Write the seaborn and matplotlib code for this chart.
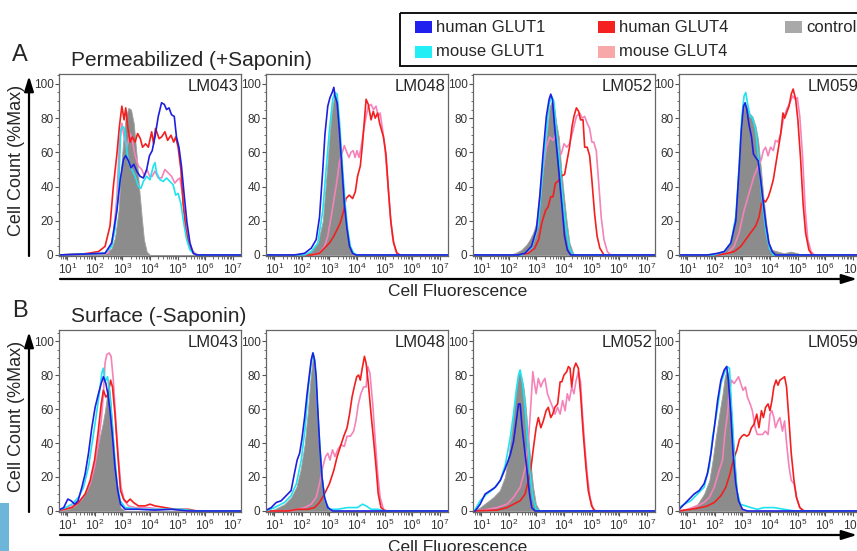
import numpy as np
import pandas as pd
import matplotlib
matplotlib.use('Agg')
import matplotlib.pyplot as plt
from matplotlib.patches import Rectangle
from matplotlib.ticker import LogLocator, NullFormatter, FixedLocator, MultipleLocator
import seaborn as sns

# series / colours
LINE_ORDER = ['mouse GLUT4', 'human GLUT4', 'mouse GLUT1', 'human GLUT1']
LINE_COLORS = {'human GLUT1': '#1f1fe0', 'mouse GLUT1': '#1fe3f0',
               'human GLUT4': '#f31f1f', 'mouse GLUT4': '#f583b9'}
PATCH_COLORS = {'human GLUT1': '#2020ee', 'mouse GLUT1': '#22eef5',
                'human GLUT4': '#f52020', 'mouse GLUT4': '#f8a8a8', 'control': '#a9a9a9'}
CONTROL_FILL = '#8c8c8c'

CELL_LINES = ['LM043', 'LM048', 'LM052', 'LM059']
DECADES = [1, 2, 3, 4, 5, 6, 7]
PCT_TICKS = [0, 20, 40, 60, 80, 100]

# histograms: (log10 fluorescence, % of max)
PERM_LM043 = {
    'human GLUT1': [(0.7, 0), (2.37, 1), (2.61, 7), (2.8, 26), (2.92, 44), (3.04, 56), (3.12, 58), (3.22, 55), (3.31, 51), (3.41, 53), (3.52, 49), (3.64, 46), (3.76, 45), (3.88, 50), (3.98, 58), (4.08, 61), (4.18, 69), (4.3, 81), (4.42, 89), (4.52, 88), (4.6, 85), (4.69, 86), (4.78, 82), (4.88, 81), (4.96, 69), (5.05, 63), (5.14, 52), (5.24, 35), (5.34, 19), (5.45, 7), (5.57, 1), (5.69, 0), (7.3, 0)],
    'mouse GLUT1': [(0.7, 0), (2.37, 1), (2.61, 5), (2.73, 15), (2.86, 38), (2.94, 73), (3.01, 75), (3.07, 74), (3.13, 65), (3.22, 54), (3.34, 50), (3.46, 46), (3.58, 40), (3.67, 39), (3.76, 43), (3.88, 46), (4.0, 44), (4.12, 52), (4.18, 54), (4.24, 48), (4.36, 44), (4.48, 43), (4.6, 45), (4.72, 43), (4.84, 41), (4.93, 35), (5.02, 36), (5.12, 30), (5.22, 19), (5.33, 9), (5.45, 3), (5.57, 1), (5.7, 0), (7.3, 0)],
    'human GLUT4': [(0.7, 0), (1.5, 0.5), (1.77, 1), (2.13, 2), (2.37, 5), (2.55, 17), (2.67, 40), (2.8, 59), (2.89, 75), (2.98, 87), (3.06, 79), (3.12, 86), (3.19, 75), (3.28, 66), (3.36, 69), (3.46, 66), (3.55, 71), (3.65, 68), (3.73, 63), (3.84, 65), (3.94, 63), (4.06, 72), (4.13, 65), (4.2, 74), (4.33, 68), (4.42, 69), (4.54, 72), (4.64, 67), (4.76, 70), (4.86, 66), (4.93, 69), (5.02, 63), (5.12, 50), (5.2, 30), (5.3, 15), (5.42, 5), (5.57, 1), (5.69, 0), (7.3, 0)],
    'mouse GLUT4': [(0.7, 0), (2.49, 1), (2.67, 11), (2.8, 34), (2.89, 65), (2.98, 77), (3.06, 69), (3.16, 63), (3.28, 71), (3.36, 67), (3.46, 58), (3.58, 52), (3.7, 50), (3.8, 46), (3.89, 50), (3.99, 46), (4.08, 46), (4.18, 49), (4.3, 45), (4.42, 45), (4.54, 50), (4.66, 48), (4.78, 46), (4.9, 42), (5.0, 44), (5.08, 45), (5.18, 36), (5.29, 20), (5.39, 9), (5.51, 3), (5.63, 1), (5.75, 0), (7.3, 0)],
    'control': [(0.7, 0), (2.37, 0.5), (2.61, 4), (2.73, 10), (2.86, 26), (2.95, 50), (3.04, 69), (3.12, 81), (3.22, 86), (3.31, 85), (3.41, 77), (3.51, 59), (3.6, 40), (3.7, 22), (3.78, 9), (3.88, 2), (4.0, 0), (7.3, 0)],
}
PERM_LM048 = {
    'human GLUT1': [(0.7, 0), (1.73, 0), (2.1, 1), (2.34, 4), (2.52, 9), (2.64, 22), (2.76, 50), (2.84, 71), (2.94, 87), (3.02, 92), (3.1, 95), (3.16, 98), (3.2, 93), (3.28, 89), (3.36, 73), (3.45, 52), (3.54, 30), (3.64, 15), (3.73, 5), (3.84, 1), (3.96, 0), (7.3, 0)],
    'mouse GLUT1': [(0.7, 0), (2.1, 0), (2.34, 2), (2.58, 7), (2.76, 26), (2.88, 50), (3.0, 73), (3.12, 91), (3.2, 95), (3.28, 94), (3.36, 79), (3.48, 50), (3.57, 30), (3.66, 15), (3.76, 5), (3.88, 1), (4.0, 0), (7.3, 0)],
    'human GLUT4': [(0.7, 0), (2.34, 0), (2.64, 1), (2.82, 4), (3.0, 7), (3.16, 11), (3.28, 15), (3.4, 19), (3.52, 26), (3.6, 33), (3.72, 35), (3.84, 33), (3.94, 37), (4.02, 46), (4.12, 52), (4.2, 65), (4.27, 79), (4.33, 91), (4.41, 88), (4.51, 79), (4.59, 84), (4.66, 80), (4.75, 83), (4.82, 77), (4.89, 73), (4.96, 69), (5.05, 59), (5.13, 40), (5.23, 19), (5.33, 7), (5.45, 1), (5.57, 0), (7.3, 0)],
    'mouse GLUT4': [(0.7, 0), (2.34, 0), (2.64, 1), (2.82, 5), (2.94, 11), (3.06, 22), (3.18, 34), (3.28, 44), (3.36, 54), (3.45, 59), (3.54, 64), (3.63, 60), (3.71, 57), (3.78, 60), (3.86, 61), (3.93, 57), (4.0, 61), (4.07, 57), (4.14, 62), (4.24, 73), (4.33, 81), (4.41, 87), (4.51, 88), (4.6, 85), (4.69, 87), (4.77, 81), (4.84, 83), (4.93, 73), (5.01, 63), (5.11, 44), (5.2, 24), (5.3, 9), (5.41, 2), (5.53, 0), (7.3, 0)],
    'control': [(0.7, 0), (1.98, 0), (2.34, 2), (2.58, 7), (2.76, 20), (2.88, 44), (3.0, 69), (3.08, 83), (3.18, 94), (3.25, 93), (3.33, 79), (3.42, 59), (3.52, 36), (3.61, 19), (3.72, 6), (3.84, 1), (3.96, 0), (7.3, 0)],
}
PERM_LM052 = {
    'human GLUT1': [(0.7, 0), (2.34, 0), (2.58, 1), (2.82, 5), (3.0, 15), (3.12, 34), (3.24, 59), (3.36, 81), (3.46, 91), (3.52, 94), (3.58, 91), (3.66, 75), (3.76, 58), (3.84, 44), (3.94, 26), (4.02, 11), (4.12, 3), (4.24, 0), (7.3, 0)],
    'mouse GLUT1': [(0.7, 0), (2.46, 0), (2.82, 4), (3.06, 17), (3.2, 44), (3.33, 67), (3.45, 87), (3.54, 93), (3.63, 90), (3.72, 73), (3.84, 54), (3.96, 32), (4.08, 15), (4.2, 4), (4.33, 0), (7.3, 0)],
    'human GLUT4': [(0.7, 0), (2.34, 0), (2.7, 1), (2.94, 4), (3.08, 9), (3.2, 19), (3.33, 26), (3.42, 28), (3.52, 34), (3.6, 34), (3.69, 42), (3.78, 43), (3.88, 46), (4.02, 47), (4.12, 56), (4.2, 63), (4.29, 75), (4.36, 81), (4.45, 86), (4.53, 84), (4.6, 79), (4.69, 79), (4.75, 63), (4.84, 63), (4.93, 58), (5.01, 44), (5.11, 24), (5.2, 11), (5.3, 4), (5.45, 0), (7.3, 0)],
    'mouse GLUT4': [(0.7, 0), (2.34, 0), (2.64, 1), (2.82, 4), (3.0, 13), (3.12, 34), (3.24, 50), (3.36, 63), (3.48, 69), (3.6, 67), (3.72, 71), (3.81, 61), (3.9, 59), (4.0, 65), (4.1, 63), (4.2, 65), (4.33, 73), (4.45, 81), (4.57, 83), (4.66, 80), (4.75, 81), (4.84, 77), (4.93, 74), (5.01, 66), (5.08, 66), (5.17, 61), (5.25, 44), (5.35, 22), (5.45, 9), (5.57, 2), (5.69, 0), (7.3, 0)],
    'control': [(0.7, 0), (1.98, 0), (2.22, 1), (2.46, 3), (2.64, 6), (2.76, 9), (2.88, 13), (3.0, 19), (3.12, 30), (3.24, 50), (3.36, 69), (3.48, 87), (3.57, 90), (3.64, 87), (3.72, 77), (3.81, 69), (3.9, 50), (4.0, 34), (4.1, 19), (4.2, 7), (4.33, 1), (4.45, 0), (7.3, 0)],
}
PERM_LM059 = {
    'human GLUT1': [(0.7, 0), (1.73, 0), (2.1, 1), (2.34, 2), (2.58, 7), (2.76, 20), (2.88, 50), (2.96, 73), (3.04, 87), (3.1, 89), (3.16, 85), (3.24, 76), (3.33, 69), (3.4, 59), (3.48, 57), (3.57, 55), (3.66, 44), (3.76, 30), (3.86, 17), (3.96, 7), (4.08, 2), (4.2, 0), (7.3, 0)],
    'mouse GLUT1': [(0.7, 0), (1.98, 0), (2.34, 2), (2.58, 7), (2.76, 22), (2.88, 52), (2.98, 81), (3.06, 93), (3.12, 95), (3.18, 89), (3.28, 81), (3.37, 80), (3.48, 73), (3.57, 59), (3.66, 42), (3.76, 26), (3.86, 13), (3.98, 4), (4.12, 0), (7.3, 0)],
    'human GLUT4': [(0.7, 0), (2.1, 0), (2.46, 1), (2.7, 2), (2.94, 5), (3.12, 9), (3.3, 13), (3.48, 17), (3.6, 22), (3.69, 30), (3.76, 32), (3.84, 31), (3.94, 34), (4.02, 38), (4.12, 44), (4.2, 52), (4.29, 61), (4.39, 71), (4.47, 83), (4.53, 80), (4.6, 83), (4.69, 87), (4.77, 94), (4.84, 97), (4.93, 91), (5.01, 79), (5.11, 56), (5.2, 30), (5.29, 13), (5.41, 3), (5.53, 0), (7.3, 0)],
    'mouse GLUT4': [(0.7, 0), (2.1, 0), (2.46, 1), (2.7, 5), (2.88, 13), (3.06, 26), (3.24, 36), (3.42, 46), (3.57, 52), (3.69, 56), (3.76, 61), (3.84, 63), (3.93, 58), (4.02, 63), (4.12, 61), (4.2, 67), (4.29, 66), (4.39, 71), (4.48, 79), (4.6, 85), (4.72, 89), (4.82, 93), (4.92, 91), (4.99, 92), (5.08, 81), (5.18, 58), (5.28, 26), (5.37, 9), (5.49, 2), (5.61, 0), (7.3, 0)],
    'control': [(0.7, 0), (1.98, 0), (2.34, 2), (2.58, 8), (2.76, 26), (2.88, 54), (2.98, 77), (3.06, 88), (3.16, 87), (3.24, 83), (3.36, 81), (3.48, 75), (3.57, 67), (3.66, 52), (3.76, 34), (3.86, 19), (3.96, 7), (4.08, 3), (4.27, 2), (4.51, 1), (4.75, 2), (5.0, 1), (5.2, 0), (7.3, 0)],
}
SURF_LM043 = {
    'human GLUT1': [(0.7, 0.5), (0.75, 1), (0.87, 2), (1.02, 7), (1.14, 6), (1.27, 4), (1.39, 6), (1.53, 14), (1.65, 22), (1.77, 34), (1.89, 49), (2.01, 61), (2.13, 69), (2.23, 75), (2.31, 79), (2.4, 75), (2.47, 69), (2.55, 59), (2.64, 44), (2.73, 26), (2.83, 12), (2.93, 4), (3.1, 1), (3.58, 1), (4.18, 0.5), (4.78, 1), (5.39, 0), (7.3, 0)],
    'mouse GLUT1': [(0.7, 0.5), (0.75, 1), (0.93, 2), (1.17, 4), (1.41, 8), (1.59, 14), (1.77, 26), (1.92, 42), (2.04, 55), (2.16, 69), (2.25, 81), (2.31, 84), (2.37, 76), (2.46, 79), (2.53, 71), (2.61, 55), (2.71, 34), (2.81, 16), (2.92, 6), (3.1, 2), (3.7, 1), (4.42, 1), (5.14, 1), (5.63, 0), (7.3, 0)],
    'human GLUT4': [(0.7, 0.5), (0.93, 1), (1.17, 2), (1.41, 5), (1.65, 10), (1.83, 18), (1.99, 30), (2.11, 45), (2.23, 63), (2.31, 71), (2.4, 67), (2.49, 69), (2.57, 77), (2.64, 73), (2.73, 57), (2.83, 34), (2.93, 12), (3.04, 7), (3.16, 5), (3.28, 7), (3.4, 5), (3.58, 3), (3.82, 3), (4.0, 4), (4.18, 3), (4.54, 2), (4.9, 1), (5.39, 1), (5.69, 0), (7.3, 0)],
    'mouse GLUT4': [(0.7, 0), (1.05, 2), (1.41, 5), (1.65, 10), (1.83, 16), (1.99, 26), (2.11, 38), (2.23, 53), (2.31, 69), (2.37, 87), (2.43, 92), (2.52, 93), (2.59, 91), (2.67, 77), (2.76, 53), (2.86, 30), (2.95, 14), (3.07, 6), (3.22, 3), (3.46, 2), (3.94, 2), (4.42, 1), (4.9, 1), (5.39, 0), (7.3, 0)],
    'control': [(0.7, 0), (1.05, 1), (1.29, 3), (1.53, 7), (1.71, 12), (1.87, 20), (2.01, 30), (2.16, 42), (2.28, 51), (2.37, 59), (2.45, 69), (2.49, 75), (2.55, 69), (2.64, 49), (2.73, 26), (2.83, 10), (2.93, 2), (3.1, 0), (7.3, 0)],
}
SURF_LM048 = {
    'human GLUT1': [(0.7, 0), (0.71, 0.5), (0.89, 2), (1.07, 5), (1.25, 6), (1.43, 9), (1.61, 12), (1.73, 22), (1.83, 30), (1.92, 34), (2.0, 42), (2.1, 55), (2.19, 69), (2.28, 81), (2.34, 89), (2.4, 93), (2.46, 89), (2.52, 79), (2.58, 59), (2.65, 38), (2.73, 20), (2.82, 8), (2.94, 2), (3.12, 0), (7.3, 0)],
    'mouse GLUT1': [(0.7, 0), (1.01, 2), (1.37, 5), (1.61, 9), (1.8, 16), (1.98, 30), (2.12, 49), (2.24, 73), (2.34, 87), (2.41, 93), (2.48, 87), (2.55, 65), (2.64, 42), (2.73, 20), (2.84, 6), (3.0, 1), (3.3, 1), (3.66, 2), (4.02, 2), (4.2, 4), (4.33, 3), (4.51, 1), (4.75, 1), (4.99, 0), (7.3, 0)],
    'human GLUT4': [(0.7, 0), (1.49, 0), (1.86, 1), (2.22, 1), (2.46, 2), (2.64, 5), (2.82, 10), (3.0, 16), (3.16, 24), (3.28, 32), (3.4, 38), (3.52, 44), (3.64, 49), (3.73, 57), (3.82, 67), (3.9, 73), (3.99, 79), (4.06, 80), (4.12, 77), (4.18, 83), (4.27, 91), (4.33, 87), (4.41, 75), (4.51, 57), (4.6, 42), (4.69, 26), (4.77, 10), (4.87, 2), (5.01, 0), (7.3, 0)],
    'mouse GLUT4': [(0.7, 0), (1.49, 0), (1.86, 1), (2.1, 2), (2.34, 4), (2.52, 8), (2.64, 16), (2.76, 26), (2.86, 32), (2.94, 34), (3.02, 30), (3.11, 36), (3.2, 32), (3.3, 36), (3.42, 39), (3.54, 38), (3.64, 44), (3.76, 44), (3.88, 47), (3.96, 53), (4.05, 63), (4.14, 69), (4.24, 73), (4.33, 73), (4.39, 85), (4.47, 81), (4.57, 63), (4.65, 44), (4.75, 22), (4.84, 8), (4.96, 1), (5.11, 0), (7.3, 0)],
    'control': [(0.7, 0), (1.01, 1), (1.37, 4), (1.61, 8), (1.8, 14), (1.95, 24), (2.1, 39), (2.22, 59), (2.31, 77), (2.4, 91), (2.46, 87), (2.53, 69), (2.6, 45), (2.7, 24), (2.8, 10), (2.92, 2), (3.06, 0), (7.3, 0)],
}
SURF_LM052 = {
    'human GLUT1': [(0.7, 0), (0.78, 0), (0.96, 4), (1.14, 10), (1.33, 12), (1.51, 14), (1.69, 18), (1.87, 25), (2.05, 33), (2.17, 41), (2.27, 53), (2.35, 63), (2.41, 63), (2.47, 51), (2.55, 39), (2.65, 25), (2.75, 10), (2.83, 2), (2.95, 0), (7.3, 0)],
    'mouse GLUT1': [(0.7, 0), (0.78, 1), (0.96, 6), (1.2, 10), (1.45, 13), (1.69, 18), (1.87, 27), (2.05, 43), (2.17, 57), (2.27, 71), (2.35, 80), (2.41, 83), (2.49, 76), (2.59, 61), (2.67, 43), (2.77, 22), (2.87, 8), (2.99, 1), (3.13, 0), (7.3, 0)],
    'human GLUT4': [(0.7, 0), (1.57, 0.5), (1.93, 2), (2.17, 4), (2.41, 6), (2.59, 10), (2.71, 18), (2.8, 25), (2.89, 37), (2.99, 49), (3.07, 55), (3.16, 49), (3.25, 53), (3.35, 59), (3.43, 61), (3.52, 55), (3.59, 57), (3.67, 61), (3.77, 63), (3.86, 76), (3.92, 76), (4.0, 80), (4.1, 82), (4.16, 85), (4.22, 84), (4.28, 73), (4.36, 84), (4.43, 87), (4.52, 84), (4.6, 69), (4.7, 45), (4.8, 25), (4.88, 12), (5.0, 3), (5.12, 0), (7.3, 0)],
    'mouse GLUT4': [(0.7, 0), (1.08, 0.5), (1.57, 2), (1.93, 4), (2.17, 8), (2.41, 14), (2.59, 25), (2.71, 41), (2.8, 63), (2.87, 82), (2.92, 76), (2.99, 69), (3.07, 78), (3.16, 73), (3.23, 76), (3.31, 78), (3.4, 69), (3.49, 65), (3.59, 61), (3.67, 57), (3.77, 61), (3.86, 57), (3.95, 65), (4.04, 59), (4.12, 69), (4.19, 65), (4.28, 73), (4.36, 69), (4.43, 76), (4.52, 82), (4.6, 76), (4.67, 57), (4.76, 37), (4.84, 22), (4.94, 8), (5.06, 1), (5.18, 0), (7.3, 0)],
    'control': [(0.7, 0), (0.95, 2), (1.19, 5), (1.43, 8), (1.67, 12), (1.86, 20), (2.0, 34), (2.12, 49), (2.22, 65), (2.31, 77), (2.38, 82), (2.45, 79), (2.53, 73), (2.6, 63), (2.7, 44), (2.8, 26), (2.88, 14), (2.98, 4), (3.12, 0), (7.3, 0)],
}
SURF_LM059 = {
    'human GLUT1': [(0.7, 0.5), (0.71, 1), (0.89, 4), (1.07, 7), (1.25, 10), (1.43, 12), (1.61, 16), (1.73, 22), (1.86, 34), (1.98, 49), (2.1, 65), (2.22, 77), (2.34, 83), (2.43, 85), (2.49, 77), (2.58, 57), (2.66, 34), (2.76, 16), (2.86, 6), (3.0, 1), (3.18, 0), (7.3, 0)],
    'mouse GLUT1': [(0.7, 1), (0.71, 2), (0.89, 4), (1.13, 6), (1.37, 10), (1.61, 14), (1.8, 26), (1.92, 44), (2.0, 51), (2.1, 61), (2.22, 75), (2.34, 81), (2.43, 85), (2.53, 84), (2.6, 63), (2.7, 34), (2.8, 12), (2.92, 4), (3.12, 3), (3.3, 2), (3.54, 1), (3.78, 2), (4.14, 2), (4.51, 1), (4.87, 0), (7.3, 0)],
    'human GLUT4': [(0.7, 0), (1.13, 1), (1.49, 2), (1.73, 3), (1.98, 5), (2.22, 9), (2.4, 14), (2.55, 22), (2.67, 30), (2.8, 36), (2.89, 42), (2.98, 44), (3.06, 45), (3.16, 44), (3.24, 45), (3.33, 49), (3.42, 51), (3.52, 57), (3.6, 49), (3.69, 59), (3.76, 55), (3.84, 61), (3.93, 63), (4.0, 59), (4.07, 65), (4.14, 73), (4.22, 77), (4.29, 74), (4.36, 77), (4.45, 78), (4.53, 79), (4.6, 73), (4.69, 53), (4.77, 34), (4.87, 18), (4.96, 8), (5.08, 2), (5.23, 0), (7.3, 0)],
    'mouse GLUT4': [(0.7, 0), (1.01, 1), (1.37, 3), (1.61, 5), (1.8, 8), (1.98, 14), (2.16, 24), (2.28, 30), (2.36, 45), (2.46, 57), (2.52, 69), (2.6, 77), (2.7, 75), (2.78, 77), (2.86, 79), (2.94, 75), (3.02, 71), (3.11, 73), (3.18, 67), (3.28, 63), (3.36, 59), (3.46, 49), (3.54, 45), (3.64, 45), (3.73, 45), (3.83, 47), (3.93, 45), (4.0, 57), (4.07, 59), (4.14, 55), (4.2, 49), (4.29, 53), (4.36, 55), (4.45, 47), (4.53, 53), (4.6, 40), (4.69, 26), (4.77, 18), (4.87, 16), (4.96, 8), (5.08, 2), (5.23, 0), (7.3, 0)],
    'control': [(0.7, 0), (1.01, 1), (1.37, 4), (1.61, 10), (1.8, 18), (1.92, 30), (2.04, 44), (2.16, 57), (2.28, 69), (2.36, 79), (2.43, 83), (2.52, 79), (2.6, 59), (2.7, 34), (2.8, 12), (2.92, 3), (3.06, 0), (7.3, 0)],
}

ROWS = [
    ('A', 'Permeabilized (+Saponin)', [PERM_LM043, PERM_LM048, PERM_LM052, PERM_LM059]),
    ('B', 'Surface (-Saponin)', [SURF_LM043, SURF_LM048, SURF_LM052, SURF_LM059]),
]

sns.set_style('white')
plt.rcParams['font.family'] = ['Liberation Sans', 'DejaVu Sans']
plt.rcParams['mathtext.default'] = 'regular'

W, H = 857, 551
fig = plt.figure(figsize=(W / 100, H / 100), dpi=100)


def px_rect(x0, y0, w, h):
    return [x0 / W, 1 - (y0 + h) / H, w / W, h / H]


def to_frame(panel):
    rows = []
    for name, pts in panel.items():
        for lx, pct in pts:
            rows.append({'series': name, 'fluor': 10 ** lx, 'pct': pct})
    return pd.DataFrame(rows)


panel_left = [59, 266, 473, 679]
row_top = [74, 330]
row_ylim = [(-0.6, 105.8), (-0.6, 106.5)]

for r, (letter, title, panels) in enumerate(ROWS):
    for c, panel in enumerate(panels):
        ax = fig.add_axes(px_rect(panel_left[c], row_top[r], 182, 182))
        df = to_frame(panel)
        ctrl = df[df.series == 'control']
        ax.fill_between(ctrl.fluor, ctrl.pct, 0, color=CONTROL_FILL,
                        edgecolor='#a0a0a0', lw=0.6, zorder=1)
        sns.lineplot(data=df[df.series != 'control'], x='fluor', y='pct',
                     hue='series', hue_order=LINE_ORDER, palette=LINE_COLORS,
                     estimator=None, sort=False, lw=1.2, legend=False, ax=ax, zorder=2)
        ax.set_xscale('log')
        ax.set_xlim(10 ** 0.7, 10 ** 7.3)
        ax.set_ylim(*row_ylim[r])
        ax.xaxis.set_major_locator(FixedLocator([10 ** d for d in DECADES]))
        ax.set_xticklabels([f'$10^{{{d}}}$' for d in DECADES])
        ax.xaxis.set_minor_locator(LogLocator(base=10, subs=np.arange(2, 10), numticks=20))
        ax.xaxis.set_minor_formatter(NullFormatter())
        ax.set_yticks(PCT_TICKS)
        ax.yaxis.set_minor_locator(MultipleLocator(5))
        ax.tick_params(which='major', direction='out', length=3, width=0.8,
                       color='#555555', labelsize=8.5, labelcolor='#333333', pad=1.5)
        ax.tick_params(which='minor', direction='out', length=1.8, width=0.6, color='#555555')
        ax.tick_params(axis='x', which='both', bottom=True)
        ax.tick_params(axis='y', which='both', left=True, pad=1)
        for s in ax.spines.values():
            s.set_color('#666666')
            s.set_linewidth(0.9)
        ax.set_xlabel('')
        ax.set_ylabel('')
        ax.text(0.985, 0.975, CELL_LINES[c], transform=ax.transAxes,
                ha='right', va='top', fontsize=12)

# overlay for labels, arrows, legend
ov = fig.add_axes([0, 0, 1, 1], zorder=10)
ov.set_xlim(0, W)
ov.set_ylim(H, 0)
ov.axis('off')
ov.patch.set_alpha(0)

arrow = dict(arrowstyle='-|>,head_length=0.9,head_width=0.28', lw=1.6, color='black',
             shrinkA=0, shrinkB=0)
for r, (letter, title, _) in enumerate(ROWS):
    top = row_top[r]
    ov.text(12, top - 13, letter, fontsize=17, va='baseline', ha='left')
    ov.text(71, top - 8, title, fontsize=15, va='baseline', ha='left')
    ov.annotate('', xy=(29, top + 2), xytext=(29, top + 182), arrowprops=arrow)
    ov.text(17, top + 86, 'Cell Count (%Max)', rotation=90, fontsize=13,
            ha='center', va='center')
    ov.annotate('', xy=(857, top + 205), xytext=(60, top + 205), arrowprops=arrow)
    ov.text(458, top + 218, 'Cell Fluorescence', fontsize=12.5, ha='center', va='center')

# legend box
ov.add_patch(Rectangle((400, 13), 470, 53, fill=False, edgecolor='black', lw=1.3))
legend_items = [('human GLUT1', 415, 27), ('mouse GLUT1', 415, 52),
                ('human GLUT4', 598, 27), ('mouse GLUT4', 598, 52),
                ('control', 785, 27)]
for name, x0, yc in legend_items:
    ov.add_patch(Rectangle((x0, yc - 6), 17, 12, color=PATCH_COLORS[name], lw=0))
    ov.text(x0 + 21, yc, name, fontsize=12, ha='left', va='center')

# stray edge of the cropped page
ov.add_patch(Rectangle((0, 503), 9, 48, color='#6db5d9', lw=0))

fig.savefig('out.png', dpi=100)
